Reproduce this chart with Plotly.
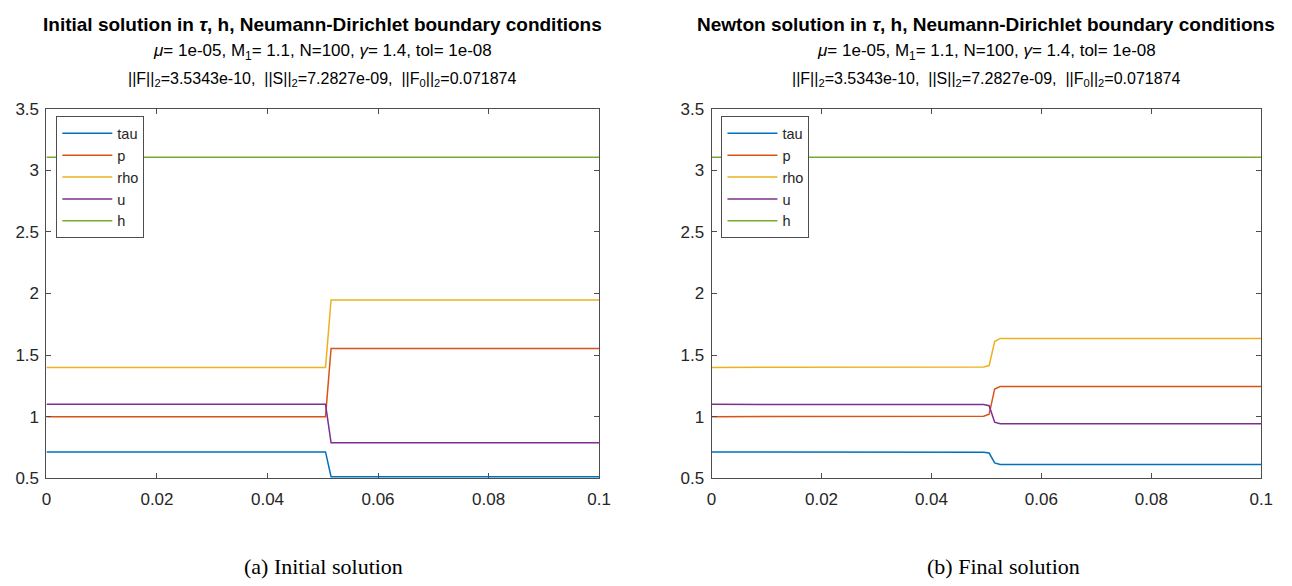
import plotly.graph_objects as go

# ---- data ----
series_names = ["tau", "p", "rho", "u", "h"]
colors = ["#0072BD", "#D95319", "#EDB120", "#7E2F8E", "#77AC30"]

x_init = [0.0, 0.0505, 0.0515, 0.1]
tau_init = [0.714, 0.714, 0.513, 0.513]
p_init = [1.0, 1.0, 1.553, 1.553]
rho_init = [1.4, 1.4, 1.947, 1.947]
u_init = [1.1, 1.1, 0.789, 0.789]
h_init = [3.105, 3.105, 3.105, 3.105]

x_final = [0.0, 0.0485, 0.0495, 0.0505, 0.0515, 0.0525, 0.1]
tau_final = [0.714, 0.714, 0.712, 0.705, 0.625, 0.612, 0.612]
p_final = [1.0, 1.0, 1.003, 1.02, 1.225, 1.245, 1.245]
rho_final = [1.4, 1.4, 1.403, 1.415, 1.61, 1.635, 1.635]
u_final = [1.1, 1.1, 1.098, 1.089, 0.955, 0.942, 0.942]
h_final = [3.105, 3.105, 3.105, 3.105, 3.105, 3.105, 3.105]

x_ticks = [0, 0.02, 0.04, 0.06, 0.08, 0.1]
x_ticklabels = ["0", "0.02", "0.04", "0.06", "0.08", "0.1"]
y_ticks = [0.5, 1, 1.5, 2, 2.5, 3, 3.5]
y_ticklabels = ["0.5", "1", "1.5", "2", "2.5", "3", "3.5"]

NB = "\u00a0"
title1_left = "<b>Initial solution in <i>τ</i>, h, Neumann-Dirichlet boundary conditions</b>"
title1_right = "<b>Newton solution in <i>τ</i>, h, Neumann-Dirichlet boundary conditions</b>"
title2 = "<i>μ</i>= 1e-05, M<sub>1</sub>= 1.1, N=100, <i>γ</i>= 1.4, tol= 1e-08"
title3 = ("||F||<sub>2</sub>=3.5343e-10, " + NB + "||S||<sub>2</sub>=7.2827e-09, " + NB +
          "||F<sub>0</sub>||<sub>2</sub>=0.071874")
caption_left = "(a) Initial solution"
caption_right = "(b) Final solution"

W, H = 1292, 586
left_px = (42, 602)
right_px = (716, 1273)
top_px, bot_px = 103, 485

fig = go.Figure()

init_data = [tau_init, p_init, rho_init, u_init, h_init]
final_data = [tau_final, p_final, rho_final, u_final, h_final]

for name, c, ys in zip(series_names, colors, init_data):
    fig.add_trace(go.Scatter(x=x_init, y=ys, mode="lines", name=name,
                             line=dict(color=c, width=1.5), legendgroup="L" + name,
                             xaxis="x", yaxis="y", legend="legend"))
for name, c, ys in zip(series_names, colors, final_data):
    fig.add_trace(go.Scatter(x=x_final, y=ys, mode="lines", name=name,
                             line=dict(color=c, width=1.5), legendgroup="R" + name,
                             xaxis="x2", yaxis="y2", legend="legend2"))

font_sans = "Liberation Sans, Arial, Helvetica"
axis_common = dict(showline=True, linecolor="#4d4d4d", linewidth=1, mirror="ticks",
                   ticks="inside", ticklen=5, tickcolor="#4d4d4d", tickwidth=1,
                   showgrid=False, zeroline=False,
                   tickfont=dict(family=font_sans, size=17, color="#262626"))

ydom = [(H - bot_px) / H, (H - top_px) / H]

fig.update_layout(
    width=W, height=H,
    margin=dict(l=0, r=0, t=0, b=0),
    paper_bgcolor="white", plot_bgcolor="white",
    xaxis=dict(domain=[left_px[0] / W, left_px[1] / W], range=[0, 0.1],
               tickvals=x_ticks, ticktext=x_ticklabels, anchor="y",
               ticklabelstandoff=5, **axis_common),
    yaxis=dict(domain=ydom, range=[0.5, 3.5], tickvals=y_ticks, ticktext=y_ticklabels,
               anchor="x", ticklabelstandoff=3, **axis_common),
    xaxis2=dict(domain=[right_px[0] / W, right_px[1] / W], range=[0, 0.1],
                tickvals=x_ticks, ticktext=x_ticklabels, anchor="y2",
                ticklabelstandoff=5, **axis_common),
    yaxis2=dict(domain=ydom, range=[0.5, 3.5], tickvals=y_ticks, ticktext=y_ticklabels,
                anchor="x2", ticklabelstandoff=3, **axis_common),
    showlegend=True,
)

legend_common = dict(bgcolor="white", bordercolor="#4d4d4d", borderwidth=1,
                     font=dict(family=font_sans, size=14.5, color="#262626"),
                     xanchor="left", yanchor="top", traceorder="normal",
                     itemwidth=50, tracegroupgap=1)
legend_top = 111
fig.update_layout(
    legend=dict(x=(left_px[0] + 10) / W, y=(H - legend_top) / H, **legend_common),
    legend2=dict(x=(right_px[0] + 10) / W, y=(H - legend_top) / H, **legend_common),
)

for (cx, t1) in [((left_px[0] + left_px[1]) / 2, title1_left),
                 ((right_px[0] + right_px[1]) / 2, title1_right)]:
    for text, ypx, fs in [(t1, 16, 19), (title2, 44, 17), (title3, 73, 16)]:
        fig.add_annotation(x=cx / W, y=(H - ypx) / H, xref="paper", yref="paper",
                           text=text, showarrow=False, xanchor="center", yanchor="middle",
                           font=dict(family=font_sans, size=fs, color="black"))

for cx, text in [(323, caption_left), (1012, caption_right)]:
    fig.add_annotation(x=cx / W, y=(H - 576) / H, xref="paper", yref="paper",
                       text=text, showarrow=False, xanchor="center", yanchor="middle",
                       font=dict(family="Liberation Serif, serif", size=22, color="black"))

fig.write_html("out.html")
